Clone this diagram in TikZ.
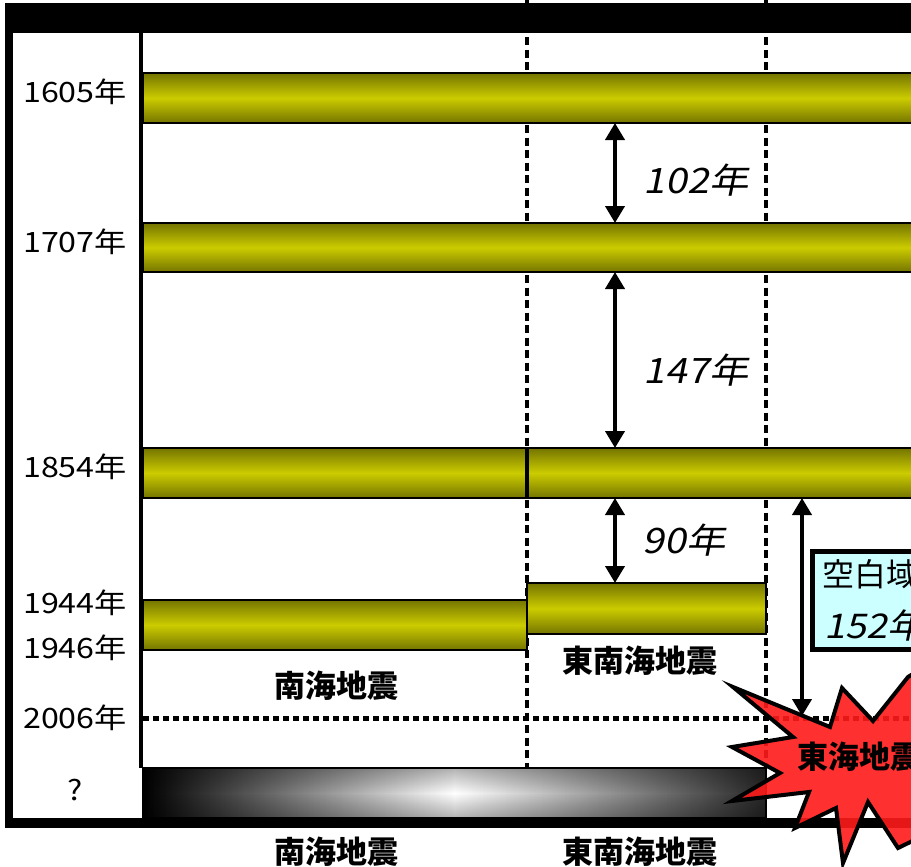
\documentclass[tikz,border=0pt]{standalone}
\usepackage{fontspec}
\usetikzlibrary{arrows.meta,fadings}
\setmainfont{Noto Sans CJK JP}
\newfontfamily\jpn[FakeStretch=1.15]{Noto Sans CJK JP}
\newfontfamily\jpi[FakeSlant=0.2,FakeStretch=1.12]{Noto Sans CJK JP}
\definecolor{oliveD}{HTML}{747400}
\definecolor{oliveL}{HTML}{CCCC00}
\definecolor{cyanL}{HTML}{CCFFFF}
\definecolor{burst}{HTML}{FF1A1A}
\tikzfading[name=vedge, top color=transparent!0, bottom color=transparent!0, middle color=transparent!100]
\tikzset{
  bar/.style={draw=black, line width=2.5pt, top color=oliveD, bottom color=oliveD, middle color=oliveL, inner sep=0pt, outer sep=0pt, anchor=north west},
  vdash/.style={line width=3.2pt, dash pattern=on 8pt off 4.5pt},
  dbl/.style={line width=4pt, {Triangle[length=17pt,width=19pt]}-{Triangle[length=17pt,width=19pt]}},
  yl/.style={font=\jpn\fontsize{28}{28}\selectfont, inner sep=0pt},
  ital/.style={font=\jpi\fontsize{35}{35}\selectfont, inner sep=0pt},
  jlab/.style={font=\bfseries\fontsize{31}{31}\selectfont, inner sep=0pt},
}
\begin{document}
\begin{tikzpicture}[x=1pt,y=-1pt]
\useasboundingbox (0,0) rectangle (911,867);
\clip (0,0) rectangle (911,867);
\fill[white] (0,0) rectangle (911,867);
% dashed verticals
\coordinate (v1t) at (527,0); \coordinate (v1b) at (527,768);
\coordinate (v2t) at (766,0); \coordinate (v2b) at (766,768);
\draw[vdash] (v1t) -- (v1b);
\draw[vdash] (v2t) -- (v2b);
% yellow bars
\node[bar, minimum width=800pt, minimum height=50pt] (b1605) at (143,73) {};
\node[bar, minimum width=800pt, minimum height=49pt] (b1707) at (143,223) {};
\node[bar, minimum width=384pt, minimum height=50pt] (b1854a) at (143,448) {};
\node[bar, minimum width=416pt, minimum height=50pt] (b1854b) at (527,448) {};
\node[bar, minimum width=239pt, minimum height=51pt] (b1944) at (527,583) {};
\node[bar, minimum width=384pt, minimum height=50pt] (b1946) at (143,600) {};
\draw[line width=3.5pt] (b1854b.north west) -- (b1854b.south west);
% future grey bar
\node[draw=black, line width=2.5pt, left color=black, right color=black!85, middle color=white, inner sep=0pt, outer sep=0pt, anchor=north west, minimum width=623pt, minimum height=50pt] (bq) at (143,768) {};
\fill[black, fill opacity=0.3, path fading=vedge] (bq.north west) rectangle (bq.south east);
% 2006 dotted line
\coordinate (dL) at (143,718); \coordinate (dR) at (930,718);
\draw[line width=5pt, dash pattern=on 6pt off 4pt] (dL) -- (dR);
% frame
\fill[black] (5,3) rectangle (911,33);
\fill[black] (5,3) rectangle (13,828);
\fill[black] (5,818) rectangle (930,828);
\coordinate (iT) at (140.5,33); \coordinate (iB) at (140.5,768);
\draw[line width=4pt] (iT) -- (iB);
% year labels
\node[yl] (y1605) at (75,92) {1605年};
\node[yl] (y1707) at (75,242) {1707年};
\node[yl] (y1854) at (75,467) {1854年};
\node[yl] (y1944) at (75,603) {1944年};
\node[yl] (y1946) at (75,648) {1946年};
\node[yl] (y2006) at (75,718) {2006年};
\node[yl] (yq) at (75,790) {?};
% interval arrows
\coordinate (ax) at (615,0);
\draw[dbl] (b1605.south -| ax) -- (b1707.north -| ax);
\draw[dbl] (b1707.south -| ax) -- (b1854b.north -| ax);
\draw[dbl] (b1854b.south -| ax) -- (b1944.north -| ax);
\node[ital] (l102) at (696,180) {102年};
\node[ital] (l147) at (696,370) {147年};
\node[ital] (l90) at (684,540) {90年};
\coordinate (bx) at (802,0);
\coordinate (bend) at (802,716);
\draw[dbl] (b1854b.south -| bx) -- (bend);
% blank area box
\node[draw=black, line width=4.5pt, fill=cyanL, anchor=north west, inner sep=0pt, minimum width=140pt, minimum height=98pt] (kuhaku) at (810,549) {};
\node[font=\fontsize{32}{32}\selectfont, anchor=west, inner sep=0pt] (kt) at (822,574) {空白域};
\node[font=\jpi\fontsize{34}{34}\selectfont, anchor=west, inner sep=0pt] (kn) at (824,626) {152年};
% region labels
\node[jlab] (nk1) at (336,686) {南海地震};
\node[jlab] (tn1) at (640,661) {東南海地震};
\node[jlab] (nk2) at (336,852) {南海地震};
\node[jlab] (tn2) at (640,852) {東南海地震};
% starburst
\draw[line width=4pt, fill=burst, fill opacity=0.9, line join=miter]
  (733,687) -- (830,727) -- (842,688) -- (873,721) -- (908,677) -- (935,660)
  -- (935,830) -- (898,848) -- (868,802) -- (843,863) -- (836,808)
  -- (795,828) -- (809,792) -- (732,801) -- (780,773) -- (732,747)
  -- (793,737) -- cycle;
\node[jlab, anchor=west] (tokai) at (797,757) {東海地震};
\end{tikzpicture}
\end{document}
